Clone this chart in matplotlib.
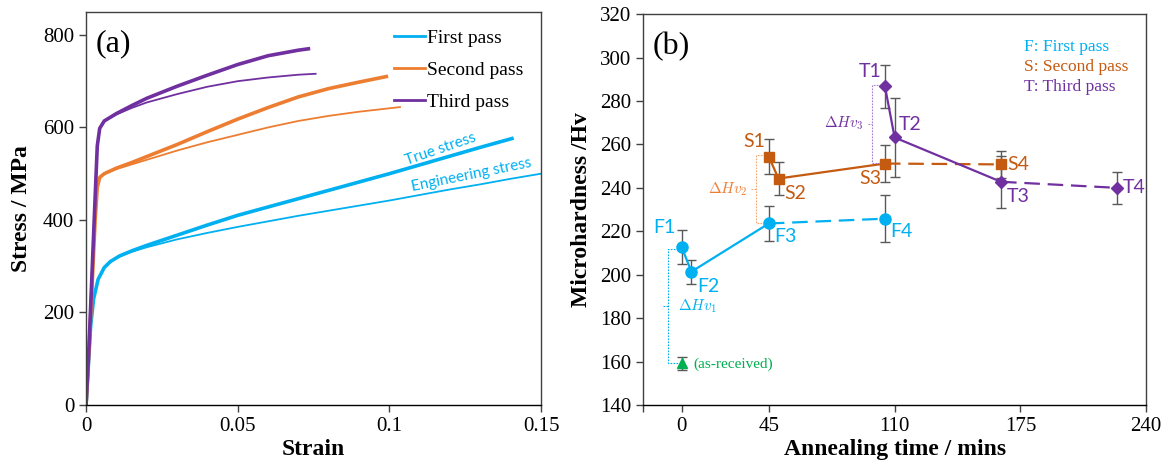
import matplotlib.pyplot as plt
import numpy as np

plt.rcParams['font.family'] = ['Liberation Serif', 'DejaVu Serif']
plt.rcParams['mathtext.fontset'] = 'cm'

SANS = ['Lato', 'DejaVu Sans']
BLUE = '#00B0F0'
ORANGE = '#ED7D31'
DORANGE = '#C55A11'
PURPLE = '#7030A0'
GREEN = '#00B050'
GREY = '#595959'

# ---------------- (a) stress-strain data ----------------
first_true_strain = [0, 0.0008, 0.0015, 0.0025, 0.004, 0.006, 0.008, 0.011, 0.015, 0.02, 0.03, 0.04,
                     0.05, 0.06, 0.07, 0.08, 0.09, 0.1, 0.11, 0.12, 0.13, 0.1404]
first_true_stress = [0, 90, 170, 230, 272, 297, 310, 322, 333, 345, 367, 389,
                     410, 428, 446, 464, 482, 500, 519, 538, 557, 576]
first_eng_strain = [0, 0.0008, 0.0015, 0.0025, 0.004, 0.006, 0.008, 0.011, 0.015, 0.02, 0.03, 0.04,
                    0.05, 0.06, 0.07, 0.08, 0.09, 0.1, 0.11, 0.12, 0.13, 0.14, 0.15]
first_eng_stress = [0, 90, 170, 230, 272, 297, 310, 321, 331, 341, 358, 372,
                    385, 397, 409, 420, 431, 442, 454, 466, 477, 489, 500]

second_true_strain = [0, 0.001, 0.002, 0.003, 0.0037, 0.0045, 0.006, 0.008, 0.01, 0.015, 0.02, 0.03,
                      0.04, 0.05, 0.06, 0.07, 0.08, 0.09, 0.099]
second_true_stress = [0, 120, 260, 400, 470, 492, 500, 506, 512, 524, 537, 563,
                      591, 618, 643, 666, 684, 698, 710]
second_eng_strain = [0, 0.001, 0.002, 0.003, 0.0037, 0.0045, 0.006, 0.008, 0.01, 0.015, 0.02, 0.03,
                     0.04, 0.05, 0.06, 0.07, 0.08, 0.09, 0.1035]
second_eng_stress = [0, 120, 260, 400, 470, 492, 500, 505, 510, 520, 530, 550,
                     568, 584, 600, 614, 625, 634, 644]

third_true_strain = [0, 0.001, 0.002, 0.003, 0.0037, 0.0045, 0.006, 0.008, 0.01, 0.015, 0.02, 0.03,
                     0.04, 0.05, 0.06, 0.07, 0.0733]
third_true_stress = [0, 130, 290, 450, 560, 598, 614, 622, 630, 647, 663, 689,
                     713, 736, 755, 767, 770]
third_eng_strain = [0, 0.001, 0.002, 0.003, 0.0037, 0.0045, 0.006, 0.008, 0.01, 0.015, 0.02, 0.03,
                    0.04, 0.05, 0.06, 0.07, 0.0757]
third_eng_stress = [0, 130, 290, 450, 560, 598, 614, 621, 628, 642, 654, 672,
                    688, 700, 708, 714, 716]

# ---------------- (b) microhardness data ----------------
f_time = [0, 5, 45, 105]
f_hv = [212.6, 201.4, 223.6, 225.8]
f_err = [7.8, 5.5, 8.0, 10.8]
s_time = [45, 50, 105, 165]
s_hv = [254.3, 244.3, 251.2, 250.8]
s_err = [8.0, 7.6, 8.4, 6.2]
t_time = [105, 110, 165, 225]
t_hv = [286.8, 263.2, 242.8, 240.0]
t_err = [10.0, 18.0, 12.0, 7.3]
asr_time = [0]
asr_hv = [159.2]
asr_err = [3.0]

fig = plt.figure(figsize=(11.66, 4.72), dpi=100)
ax1 = fig.add_axes([0.0738, 0.142, 0.3902, 0.833])
ax2 = fig.add_axes([0.5515, 0.142, 0.4315, 0.828])

for ax in (ax1, ax2):
    for s in ax.spines.values():
        s.set_color('#404040')
        s.set_linewidth(1.0)
    ax.spines['bottom'].set_color('black')
    ax.tick_params(direction='out', length=5, width=1, labelsize=15, color='#404040')

# ---------------- panel (a) ----------------
ax1.plot(first_eng_strain, first_eng_stress, color=BLUE, lw=1.3)
ax1.plot(second_eng_strain, second_eng_stress, color=ORANGE, lw=1.3)
ax1.plot(third_eng_strain, third_eng_stress, color=PURPLE, lw=1.3)
l1, = ax1.plot(first_true_strain, first_true_stress, color=BLUE, lw=2.6)
l2, = ax1.plot(second_true_strain, second_true_stress, color=ORANGE, lw=2.6)
l3, = ax1.plot(third_true_strain, third_true_stress, color=PURPLE, lw=2.6)

ax1.set_xlim(0, 0.15)
ax1.set_ylim(0, 850)
ax1.set_xticks([0, 0.05, 0.1, 0.15])
ax1.set_xticklabels(['0', '0.05', '0.1', '0.15'])
ax1.set_yticks([0, 200, 400, 600, 800])
ax1.set_xlabel('Strain', fontsize=17, fontweight='bold', labelpad=2)
ax1.set_ylabel('Stress / MPa', fontsize=17, fontweight='bold', labelpad=8)
ax1.text(0.022, 0.955, '(a)', transform=ax1.transAxes, fontsize=23, va='top', ha='left')

ax1.legend([l1, l2, l3], ['First pass', 'Second pass', 'Third pass'], loc='upper right',
           frameon=False, fontsize=14, handlelength=1.6, handletextpad=0.1, labelspacing=0.75,
           bbox_to_anchor=(1.0, 1.0))
for h in ax1.get_legend().get_lines():
    h.set_linewidth(2)

ax1.text(0.117, 553, 'True stress', color=BLUE, fontsize=11, family=SANS,
         rotation=19, ha='center', va='center', rotation_mode='anchor')
ax1.text(0.127, 497, 'Engineering stress', color=BLUE, fontsize=11, family=SANS,
         rotation=11.5, ha='center', va='center', rotation_mode='anchor')

# ---------------- panel (b) ----------------
ekw = dict(ecolor=GREY, elinewidth=1, capsize=3.5, capthick=1, zorder=1)
ax2.errorbar(f_time, f_hv, yerr=f_err, fmt='none', **ekw)
ax2.errorbar(s_time, s_hv, yerr=s_err, fmt='none', **ekw)
ax2.errorbar(t_time, t_hv, yerr=t_err, fmt='none', **ekw)
ax2.errorbar(asr_time, asr_hv, yerr=asr_err, fmt='none', **ekw)

dash = (0, (7, 3.5))
ax2.plot(f_time[:3], f_hv[:3], color=BLUE, lw=1.6, zorder=2)
ax2.plot(f_time[2:], f_hv[2:], color=BLUE, lw=1.6, ls=dash, zorder=2)
ax2.plot(s_time[:3], s_hv[:3], color=DORANGE, lw=1.6, zorder=2)
ax2.plot(s_time[2:], s_hv[2:], color=DORANGE, lw=1.6, ls=dash, zorder=2)
ax2.plot(t_time[:3], t_hv[:3], color=PURPLE, lw=1.6, zorder=2)
ax2.plot(t_time[2:], t_hv[2:], color=PURPLE, lw=1.6, ls=dash, zorder=2)

ax2.plot(f_time, f_hv, 'o', color=BLUE, ms=8, zorder=3)
ax2.plot(s_time, s_hv, 's', color=DORANGE, ms=7.5, zorder=3)
ax2.plot(t_time, t_hv, 'D', color=PURPLE, ms=6, zorder=3)
ax2.plot(asr_time, asr_hv, '^', color=GREEN, ms=7, zorder=3)

lab_kw = dict(fontsize=14, family=SANS)
f_off = [(-3, 5, 'right', 'bottom'), (3, -3, 'left', 'top'), (3, -2, 'left', 'top'), (3, -2, 'left', 'top')]
s_off = [(-2, 3, 'right', 'bottom'), (3, -3, 'left', 'top'), (-2, -3, 'right', 'top'), (3, 0, 'left', 'center')]
t_off = [(-2, 3, 'right', 'bottom'), (2, 2, 'left', 'bottom'), (3, -3, 'left', 'top'), (3, 0, 'left', 'center')]
for prefix, xs, ys, offs, col in (('F', f_time, f_hv, f_off, BLUE),
                                   ('S', s_time, s_hv, s_off, DORANGE),
                                   ('T', t_time, t_hv, t_off, PURPLE)):
    for i, (x, y, (dx, dy, ha, va)) in enumerate(zip(xs, ys, offs)):
        ax2.text(x + dx, y + dy, f'{prefix}{i + 1}', color=col, ha=ha, va=va, **lab_kw)

ax2.text(6, asr_hv[0] - 0.5, '(as-received)', color=GREEN, fontsize=11, va='center', ha='left')


def bracket(ax, x, y_top, y_bot, x_end_top, x_end_bot, color, label, lx, text_color):
    kw = dict(color=color, lw=0.8, ls=(0, (1.5, 1.2)))
    ax.plot([x_end_top, x, x, x_end_bot], [y_top, y_top, y_bot, y_bot], **kw)
    ym = (y_top + y_bot) / 2
    ax.plot([x - 2.5, x], [ym, ym], **kw)
    ax.text(lx, ym, label, color=text_color, fontsize=11, ha='right' if lx < x else 'left', va='center')


bracket(ax2, -7, f_hv[0] - 0.8, asr_hv[0], -2, -2, BLUE, r'$\Delta Hv_1$', -2, BLUE)
bracket(ax2, 38.5, s_hv[0] + 1, f_hv[2], 43, 43, '#F4A46E', r'$\Delta Hv_2$', 34, ORANGE)
bracket(ax2, 98.5, t_hv[0] + 0.8, s_hv[2] + 0.3, 103, 103, '#A77BD0', r'$\Delta Hv_3$', 94, PURPLE)

ax2.text(177, 305, 'F: First pass', color=BLUE, fontsize=12.5, va='center')
ax2.text(177, 295.7, 'S: Second pass', color=DORANGE, fontsize=12.5, va='center')
ax2.text(177, 286.4, 'T: Third pass', color=PURPLE, fontsize=12.5, va='center')

ax2.set_xlim(-20, 240)
ax2.set_ylim(140, 320)
ax2.set_xticks([-20, 0, 45, 110, 175, 240])
ax2.set_xticklabels(['', '0', '45', '110', '175', '240'])
ax2.set_yticks(np.arange(140, 321, 20))
ax2.set_xlabel('Annealing time / mins', fontsize=17, fontweight='bold', labelpad=2)
ax2.set_ylabel('Microhardness /Hv', fontsize=17, fontweight='bold', labelpad=6)
ax2.text(0.02, 0.955, '(b)', transform=ax2.transAxes, fontsize=23, va='top', ha='left')

fig.savefig('out.png', dpi=100)
